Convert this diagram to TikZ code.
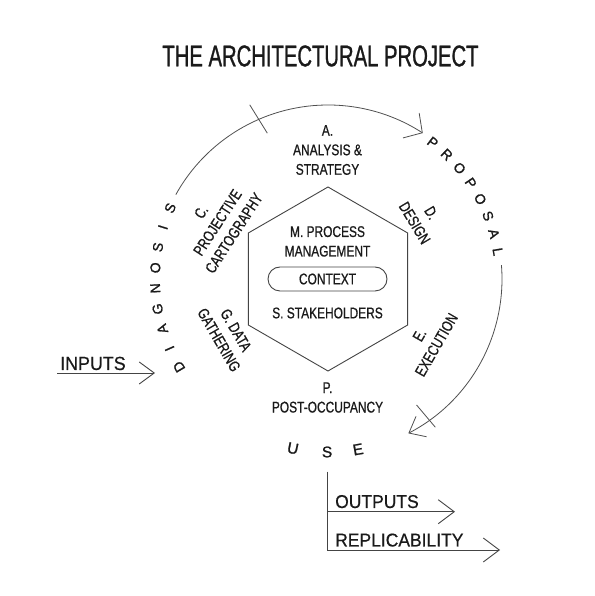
\documentclass[tikz,border=0pt]{standalone}
\usepackage{fontspec}
\setmainfont{Liberation Sans}
\newfontfamily\titlefont{Liberation Sans}[FakeStretch=0.675,FakeBold=0.9]
\newfontfamily\condfont{Liberation Sans}[FakeStretch=0.77,FakeBold=0.7]
\newfontfamily\iofont{Liberation Sans}[FakeStretch=0.94,FakeBold=0.5]
\newfontfamily\ringfont{Liberation Sans}[FakeBold=1.2]
\usetikzlibrary{arrows.meta,calc}
\definecolor{ink}{HTML}{1A1A1A}
\definecolor{linec}{HTML}{444444}
\definecolor{arcc}{HTML}{505050}
\tikzset{
  titletext/.style={font=\titlefont\fontsize{30}{34}\selectfont, text=ink, inner sep=0pt},
  hexlabel/.style={font=\condfont\fontsize{15.5}{19.5}\selectfont, align=center, text=ink, inner sep=0pt},
  ringletter/.style={font=\ringfont\fontsize{14}{16}\selectfont, text=ink, inner sep=0pt},
  useletter/.style={font=\ringfont\fontsize{15.5}{17}\selectfont, text=ink, inner sep=0pt},
  iotext/.style={font=\iofont\fontsize{19}{22}\selectfont, text=ink, inner sep=0pt, anchor=base west},
  hexline/.style={draw=linec, line width=0.9pt, line join=miter},
  arcline/.style={draw=arcc, line width=0.8pt},
  ioline/.style={draw=linec, line width=0.9pt},
  ctxbox/.style={draw=linec, line width=0.9pt, rounded corners=12pt, minimum width=119pt, minimum height=24pt, inner sep=0pt},
}
\begin{document}
\begin{tikzpicture}[x=1pt,y=1pt]
\fill[white] (0,0) rectangle (594,596);
\useasboundingbox (0,0) rectangle (594,596);
\coordinate (O) at (328,317);

% title
\node[titletext] (title) at (320.5,540) {THE ARCHITECTURAL PROJECT};

% hexagon
\draw[hexline] ($(O)+(90:92)$) -- ($(O)+(150:92)$) -- ($(O)+(210:92)$) -- ($(O)+(270:92)$) -- ($(O)+(330:92)$) -- ($(O)+(30:92)$) -- cycle;

% inner labels
\node[hexlabel] (mgmt) at (327.5,354.6) {M. PROCESS\\MANAGEMENT};
\node[ctxbox, hexlabel] (context) at (327.5,317) {CONTEXT};
\node[hexlabel] (stake) at (327.5,283) {S. STAKEHOLDERS};

% labels around hexagon
\node[hexlabel] (lblA) at (327.5,446) {A.\\ANALYSIS \&\\STRATEGY};
\node[hexlabel, rotate=57] (lblC) at (217.5,373.5) {C.\\PROJECTIVE\\CARTOGRAPHY};
\node[hexlabel, rotate=-59] (lblD) at (423,378) {D.\\DESIGN};
\node[hexlabel, rotate=60] (lblE) at (428,256) {E.\\EXECUTION};
\node[hexlabel, rotate=-60] (lblG) at (227.5,261) {G. DATA\\GATHERING};
\node[hexlabel] (lblP) at (327.5,198.5) {P.\\POST-OCCUPANCY};

% ring arcs
\draw[arcline, -{Straight Barb[length=13.4pt,width=29.7pt]}] (O) ++(151:174) arc[start angle=151, end angle=57, radius=174];
\draw[arcline, -{Straight Barb[length=14pt,width=23pt]}] (O) ++(4.6:174) arc[start angle=4.6, end angle=-62.5, radius=174];
% ticks
\draw[arcline] ($(O)+(112.6:158)$) -- ($(O)+(114.2:191)$);
\draw[arcline] ($(O)+(-54.9:154)$) -- ($(O)+(-54.1:183)$);

% DIAGNOSIS
\foreach \ch/\ang [count=\i] in {D/210.5, I/203.7, A/196.8, G/190.0, N/183.1, O/176.3, S/169.4, I/162.6, S/155.8}{
  \node[ringletter, rotate=\ang-90] (diag\i) at ($(O)+(\ang:173)$) {\ch};
}
% PROPOSAL
\foreach \ch/\ang [count=\i] in {P/52.5, R/46.3, O/40.1, P/33.9, O/27.7, S/21.5, A/15.3, L/9.1}{
  \node[ringletter, rotate=\ang-90] (prop\i) at ($(O)+(\ang:172)$) {\ch};
}
% USE
\foreach \ch/\ang [count=\i] in {U/-101.7, S/-90.3, E/-80.0}{
  \node[useletter, rotate=\ang+90] (use\i) at ($(O)+(\ang:173)$) {\ch};
}

% inputs
\node[iotext] (inputs) at (60,226) {INPUTS};
\coordinate (in0) at (57,223);
\coordinate (in1) at (155,223);
\draw[ioline, -{Straight Barb[length=15pt,width=22pt]}] (in0) -- (in1);

% outputs
\coordinate (useTop) at (327,124.3);
\coordinate (useBot) at (327,46);
\coordinate (outStart) at (327,84.3);
\coordinate (outEnd) at (455,84.3);
\coordinate (repEnd) at (500,46);
\node[iotext, font=\iofont\fontsize{18.6}{22}\selectfont] (outputs) at (335,88) {OUTPUTS};
\node[iotext, font=\iofont\fontsize{18.6}{22}\selectfont] (replic) at (335,49.5) {REPLICABILITY};
\draw[ioline] (useTop) -- (useBot);
\draw[ioline, -{Straight Barb[length=16pt,width=24pt]}] (outStart) -- (outEnd);
\draw[ioline, -{Straight Barb[length=16pt,width=24pt]}] (useBot) -- (repEnd);
\end{tikzpicture}
\end{document}
